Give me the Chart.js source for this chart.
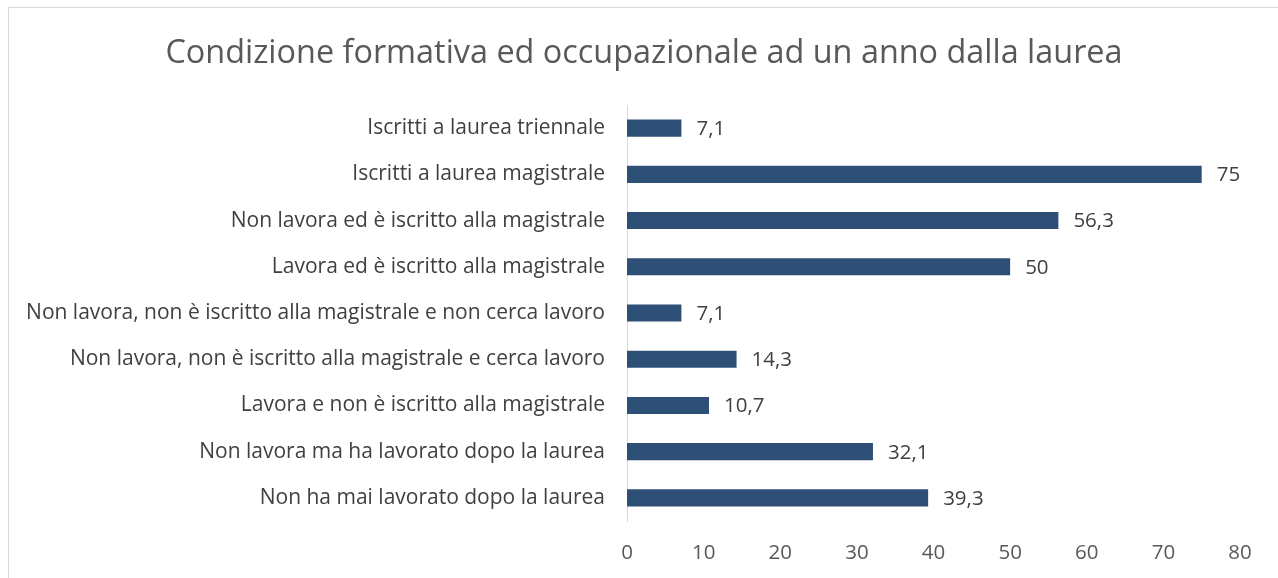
<!DOCTYPE html>
<html>
<head>
<meta charset="utf-8">
<script src="https://cdn.jsdelivr.net/npm/chart.js@4"></script>
<style>
  html, body { margin: 0; padding: 0; background: #fff; overflow: hidden; }
  #wrap { position: absolute; left: 0; top: 0; width: 1278px; height: 578px; }
  #frame { position: absolute; left: 8px; top: 7px; width: 1300px; height: 620px; border: 1px solid #d9d9d9; box-sizing: border-box; pointer-events: none; }
  canvas { position: absolute; left: 0; top: 0; }
</style>
</head>
<body>
<div id="wrap">
  <canvas id="c" width="1278" height="578"></canvas>
  <div id="frame"></div>
</div>
<script>
const titleText = "Condizione formativa ed occupazionale ad un anno dalla laurea";
const categories = [
  "Iscritti a laurea triennale",
  "Iscritti a laurea magistrale",
  "Non lavora ed è iscritto alla magistrale",
  "Lavora ed è iscritto alla magistrale",
  "Non lavora, non è iscritto alla magistrale e non cerca lavoro",
  "Non lavora, non è iscritto alla magistrale e cerca lavoro",
  "Lavora e non è iscritto alla magistrale",
  "Non lavora ma ha lavorato dopo la laurea",
  "Non ha mai lavorato dopo la laurea"
];
const values = [7.1, 75, 56.3, 50, 7.1, 14.3, 10.7, 32.1, 39.3];
const xTicksMin = 0, xTicksMax = 80, xTicksStep = 10;

const FONT = "'Open Sans', 'Noto Sans', sans-serif";

const titlePlugin = {
  id: 'customTitle',
  afterDraw(chart) {
    const ctx = chart.ctx;
    ctx.save();
    ctx.font = "32.4px " + FONT;
    ctx.fillStyle = "#595959";
    ctx.textAlign = "center";
    ctx.textBaseline = "middle";
    ctx.fillText(titleText, 644, 54);
    ctx.restore();
  }
};

const valueLabels = {
  id: 'valueLabels',
  afterDatasetsDraw(chart) {
    const ctx = chart.ctx;
    const meta = chart.getDatasetMeta(0);
    ctx.save();
    ctx.font = "20.5px " + FONT;
    ctx.fillStyle = "#404040";
    ctx.textAlign = "left";
    ctx.textBaseline = "middle";
    meta.data.forEach((bar, i) => {
      const v = chart.data.datasets[0].data[i];
      ctx.fillText(String(v).replace('.', ','), bar.x + 15, bar.y + 1);
    });
    ctx.restore();
  }
};

new Chart(document.getElementById('c'), {
  type: 'bar',
  data: {
    labels: categories,
    datasets: [{
      data: values,
      backgroundColor: '#2E4F76',
      borderWidth: 0,
      barPercentage: 0.74,
      categoryPercentage: 0.5
    }]
  },
  options: {
    indexAxis: 'y',
    responsive: false,
    animation: false,
    layout: { padding: { left: 0, right: 38, top: 105, bottom: 0 } },
    plugins: {
      legend: { display: false },
      tooltip: { enabled: false },
      title: { display: false }
    },
    scales: {
      x: {
        min: xTicksMin, max: xTicksMax,
        grid: { display: false, drawTicks: false },
        border: { display: false },
        ticks: {
          stepSize: xTicksStep,
          color: '#595959',
          font: { family: FONT, size: 20.5 },
          padding: 20,
          maxRotation: 0
        },
        afterFit(scale) { scale.height = 57; }
      },
      y: {
        grid: { display: false, drawTicks: false },
        border: { display: true, color: '#d9d9d9', width: 1 },
        ticks: {
          color: '#404040',
          font: { family: FONT, size: 21 },
          padding: 22
        },
        afterFit(scale) { scale.width = 627; }
      }
    }
  },
  plugins: [valueLabels, titlePlugin]
});
</script>
</body>
</html>
